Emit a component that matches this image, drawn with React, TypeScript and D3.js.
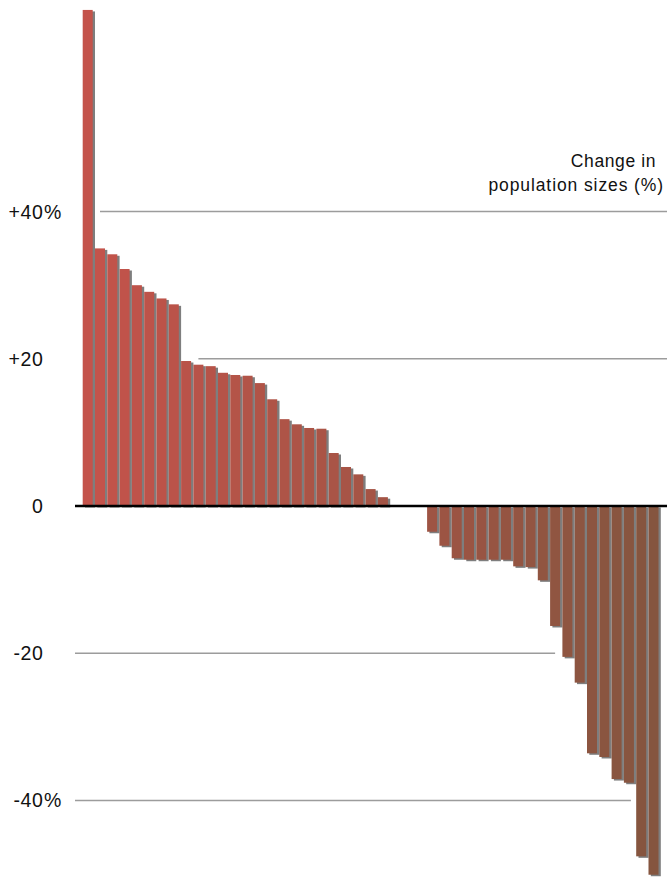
import React from "react";
import * as d3 from "d3";

const positiveValues = [67.4, 35.0, 34.2, 32.2, 30.0, 29.1, 28.2, 27.4, 19.7, 19.2, 19.0, 18.1, 17.8, 17.7, 16.7, 14.5, 11.8, 11.1, 10.6, 10.5, 7.2, 5.3, 4.3, 2.3, 1.2];
const zeroValues = [0, 0, 0];
const negativeValues = [-3.5, -5.4, -7.1, -7.3, -7.3, -7.3, -7.3, -8.2, -8.3, -10.1, -16.3, -20.5, -24.0, -33.6, -34.1, -37.1, -37.6, -47.6, -50.1];
const values = [...positiveValues, ...zeroValues, ...negativeValues];

const tickValues = [40, 20, 0, -20, -40];
const tickLabels = ["+40", "+20", "0", "-20", "-40"];
const tickSuffix = ["%", "", "", "", "%"];
const titleLines = ["Change in", "population sizes (%)"];

const W = 667;
const H = 877;
const FONT = "'Liberation Sans', Arial, Helvetica, sans-serif";

export default function App() {
  const idx = values.map((_, i) => i);
  const x = d3.scaleBand<number>().domain(idx).range([82.7, 82.7 + 47 * 12.3 - 2.3]).paddingInner(0.187).paddingOuter(0);
  const y = d3.scaleLinear().domain([-40, 40]).range([800.4, 211.6]);
  const color = d3.scaleLinear<string>().domain([0, values.length - 1]).range(["#c4534b", "#85553f"]).interpolate(d3.interpolateRgb);
  const bw = x.bandwidth();
  const cx = (i: number) => (x(i) as number) + bw / 2;

  const gridExtents: Record<number, [number, number]> = {
    40: [cx(1), W],
    20: [cx(9), W],
    [-20]: [75, cx(38)],
    [-40]: [75, cx(44) + 2],
  };

  return (
    <svg width={W} height={H} style={{ position: "absolute", left: 0, top: 0, background: "#fff" }} fontFamily={FONT}>
      <defs>
        <filter id="sh" x="-50%" y="-5%" width="200%" height="110%">
          <feGaussianBlur stdDeviation="0.7" />
        </filter>
      </defs>
      {tickValues.filter((t) => t !== 0).map((t) => (
        <line key={"g" + t} x1={gridExtents[t][0]} x2={gridExtents[t][1]} y1={y(t)} y2={y(t)} stroke="#9c9c9c" strokeWidth={1.5} />
      ))}
      {values.map((v, i) =>
        v === 0 ? null : (
          <rect key={"s" + i} x={(x(i) as number) + 2.3} y={Math.min(y(v), y(0)) + 1.5} width={bw} height={Math.abs(y(v) - y(0))} fill="#7e7e7e" filter="url(#sh)" />
        )
      )}
      {values.map((v, i) =>
        v === 0 ? null : (
          <rect key={"b" + i} x={x(i)} y={Math.min(y(v), y(0))} width={bw} height={Math.abs(y(v) - y(0))} fill={color(i)} />
        )
      )}
      <line x1={75} x2={W} y1={y(0)} y2={y(0)} stroke="#000" strokeWidth={2.5} />
      {tickValues.map((t, i) => (
        <g key={"t" + t}>
          <text x={43.5} y={y(t) + 7} textAnchor="end" fontSize={19.5} letterSpacing={0.6} fill="#111">{tickLabels[i]}</text>
          {tickSuffix[i] && (
            <text x={44} y={y(t) + 7} textAnchor="start" fontSize={19.5} fill="#111">{tickSuffix[i]}</text>
          )}
        </g>
      ))}
      <text x={656} y={167} textAnchor="end" fontSize={17.5} letterSpacing={0.6} fill="#111">{titleLines[0]}</text>
      <text x={664} y={191} textAnchor="end" fontSize={17.5} letterSpacing={0.9} fill="#111">{titleLines[1]}</text>
    </svg>
  );
}
